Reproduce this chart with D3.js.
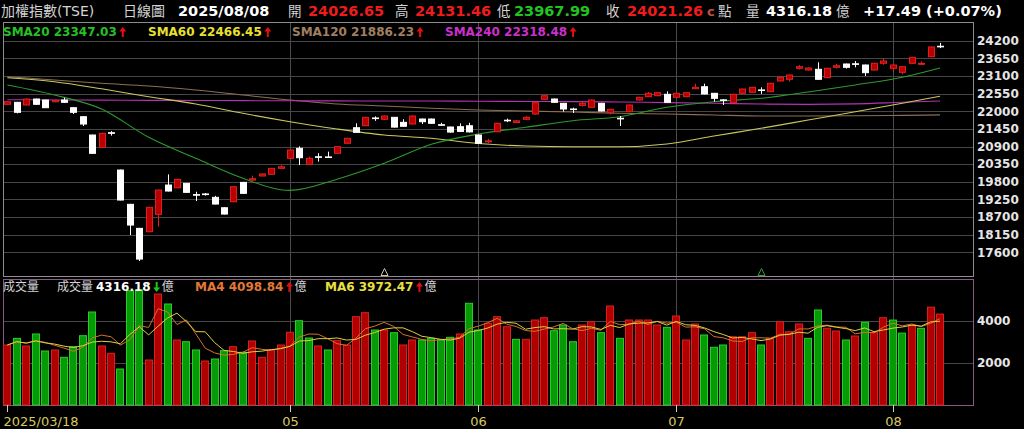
<!DOCTYPE html>
<html>
<head>
<meta charset="utf-8">
<script src="https://cdn.jsdelivr.net/npm/d3@7"></script>
<style>
body{margin:0;background:#000;}
svg{display:block;}
</style>
</head>
<body>
<svg id="chart" width="1024" height="429"></svg>
<script>
// TAIEX daily, 2025/03/18 - 2025/08/08
var dates = [
	"2025/03/18","2025/03/19","2025/03/20","2025/03/21","2025/03/24","2025/03/25","2025/03/26","2025/03/27","2025/03/28","2025/03/31",
	"2025/04/01","2025/04/02","2025/04/07","2025/04/08","2025/04/09","2025/04/10","2025/04/11","2025/04/14","2025/04/15","2025/04/16",
	"2025/04/17","2025/04/18","2025/04/21","2025/04/22","2025/04/23","2025/04/24","2025/04/25","2025/04/28","2025/04/29","2025/04/30",
	"2025/05/02","2025/05/05","2025/05/06","2025/05/07","2025/05/08","2025/05/09","2025/05/12","2025/05/13","2025/05/14","2025/05/15",
	"2025/05/16","2025/05/19","2025/05/20","2025/05/21","2025/05/22","2025/05/23","2025/05/26","2025/05/27","2025/05/28","2025/05/29",
	"2025/06/02","2025/06/03","2025/06/04","2025/06/05","2025/06/06","2025/06/09","2025/06/10","2025/06/11","2025/06/12","2025/06/13",
	"2025/06/16","2025/06/17","2025/06/18","2025/06/19","2025/06/20","2025/06/23","2025/06/24","2025/06/25","2025/06/26","2025/06/27",
	"2025/06/30","2025/07/01","2025/07/02","2025/07/03","2025/07/04","2025/07/07","2025/07/08","2025/07/09","2025/07/10","2025/07/11",
	"2025/07/14","2025/07/15","2025/07/16","2025/07/17","2025/07/18","2025/07/21","2025/07/22","2025/07/23","2025/07/24","2025/07/25",
	"2025/07/28","2025/07/29","2025/07/30","2025/07/31","2025/08/01","2025/08/04","2025/08/05","2025/08/06","2025/08/07","2025/08/08"
];
var opens = [
	22216,22278,22194,22381,22350,22297,22350,22110,21829,21258,
	20874,21330,20166,19096,18347,18241,18784,19698,19614,19751,
	19400,19420,19314,18990,19177,19782,19852,19980,20032,20219,
	20531,20843,20344,20580,20575,20687,21000,21486,21548,21790,
	21748,21810,21654,21601,21757,21757,21580,21508,21517,21548,
	21258,21045,21361,21720,21650,21748,21913,22372,22381,22247,
	22070,22184,22122,22247,21954,21780,21985,22350,22453,22484,
	22528,22434,22453,22703,22765,22559,22355,22266,22559,22590,
	22665,22609,22943,22996,23339,23286,23308,23046,23370,23473,
	23480,23442,23286,23495,23339,23214,23495,23464,23701,24026.65
];
var highs = [
	22310,22290,22400,22395,22360,22360,22422,22120,21840,21270,
	21330,21380,20180,19110,18360,19010,19550,20032,19890,19760,
	19489,19450,19360,19000,19655,19795,19990,20060,20230,20320,
	20800,20905,20581,20690,20740,20905,21170,21623,21825,21840,
	21870,21820,21750,21870,21770,21770,21640,21520,21620,21640,
	21270,21140,21640,21770,21720,21850,22280,22500,22395,22260,
	22110,22300,22365,22260,22075,21850,22210,22450,22600,22590,
	22620,22575,22590,22860,22860,22570,22380,22540,22705,22760,
	22746,22885,23070,23145,23440,23370,23526,23350,23480,23485,
	23565,23455,23510,23650,23455,23400,23695,23560,24020,24131.46
];
var lows = [
	22200,21935,22180,22200,22100,22280,22260,21913,21539,20670,
	20860,21240,19220,18138,17327,18230,18397,19500,19600,19460,
	19199,19370,19095,18780,19165,19420,19840,19970,20020,20210,
	20520,20322,20330,20430,20560,20675,20990,21330,21535,21700,
	21735,21495,21520,21590,21600,21610,21560,21330,21350,21340,
	20980,21000,21350,21660,21640,21720,21900,22360,22265,21985,
	21945,22150,22110,21995,21900,21540,21970,22340,22440,22470,
	22265,22420,22440,22690,22525,22297,22194,22255,22545,22580,
	22540,22595,22930,22920,23300,23270,22985,23035,23330,23330,
	23370,23099,23275,23450,23235,23150,23480,23440,23690,23967.99
];
var closes = [
	22297,21966,22381,22216,22110,22340,22278,21966,21601,20687,
	21311,21320,19230,18450,17389,19002,19542,19511,19876,19470,
	19380,19400,19105,18793,19645,19439,19893,20043,20219,20269,
	20790,20550,20531,20569,20560,20893,21155,21342,21810,21770,
	21851,21505,21530,21851,21673,21623,21570,21350,21370,21355,
	20999,21076,21623,21710,21700,21810,22266,22484,22278,22069,
	22060,22247,22350,22007,22060,21770,22194,22434,22559,22578,
	22278,22559,22578,22746,22537,22403,22350,22528,22693,22746,
	22655,22871,23058,23130,23389,23348,22996,23339,23420,23370,
	23470,23202,23495,23567,23442,23389,23682,23495,24003.77,24021.26
];
// 成交量 (億)
var volumes = [
	2843,3160,2795,3367,2557,2605,2257,2762,3286,4414,
	2795,2448,1700,5429,5460,2129,5271,4795,3081,3000,
	2605,2081,2176,2571,2762,2495,3033,2257,2605,2843,
	3448,4000,3176,2795,2605,3050,2843,4190,4381,3557,
	3557,3429,2843,3081,3081,3160,3081,3208,3367,4829,
	3557,3876,4190,3714,3113,3113,4033,4143,3524,3795,
	3000,3795,3952,3429,4700,3160,4033,4033,4033,3795,
	3684,4224,3081,3843,3319,2733,2843,3238,3238,3429,
	2843,3160,3952,3476,3843,3160,4510,3638,3510,3081,
	3271,3924,3429,4143,4030,3409.46,3795.18,3638,4646,4316.18
];
var maIdx = [0,5,10,15,20,25,30,35,40,45,50,55,60,65,70,75,80,85,90,95,99];
var sma20 = [22818,22506,22069,21186,20531,19907,19530,19880,20375,20968,21289,21498,21704,21829,22122,22297,22403,22599,22818,23058,23347.03];
var sma60 = [23046,22921,22700,22453,22225,21935,21673,21445,21258,21155,20993,20915,20893,20893,20977,21227,21467,21726,21985,22247,22466.45];
var sma120 = [23077,22974,22871,22787,22662,22506,22350,22225,22163,22091,22038,22007,21976,21935,21913,21882,21851,21851,21860,21872,21886.23];
var sma240 = [22360,22352,22345,22340,22335,22330,22325,22322,22320,22318,22310,22305,22300,22290,22270,22250,22225,22215,22230,22280,22318.48];
var priceTicks = d3.range(17600, 24201, 550);
var volTicks = [2000, 4000];
var markIdx = [40, 80];

var FONT = "'DejaVu Sans','Noto Sans CJK TC',sans-serif";
var n = dates.length;
var left = 3, right = 973,
	priceTop = 22, priceBottom = 276,
	volTop = 279, volBottom = 405;

var svg = d3.select("#chart");
svg.append("rect").attr("width", 1024).attr("height", 429).attr("fill", "#000");

var x = d3.scaleLinear().domain([0, n - 1]).range([7.4, 940]);
var y = d3.scaleLinear().domain([17600, 24200]).range([252.3, 40.7]);
var yv = d3.scaleLinear().domain([0, 4000]).range([404.7, 320.7]);
function cx(i){ return Math.round(x(i)); }

// month boundaries (the one right after the first label is skipped)
var tickIdx = [0];
for (var i = 1; i < n; i++) {
	if (dates[i].slice(5, 7) != dates[i - 1].slice(5, 7) && i > 15) tickIdx.push(i);
}

// grids
svg.append("g").selectAll("line").data(priceTicks).enter().append("line")
	.attr("x1", left).attr("x2", right)
	.attr("y1", function(d){ return Math.round(y(d)) + 0.5; })
	.attr("y2", function(d){ return Math.round(y(d)) + 0.5; })
	.attr("stroke", "#464646");
svg.append("g").selectAll("line").data(volTicks).enter().append("line")
	.attr("x1", left).attr("x2", right)
	.attr("y1", function(d){ return Math.round(yv(d)) + 0.5; })
	.attr("y2", function(d){ return Math.round(yv(d)) + 0.5; })
	.attr("stroke", "#464646");
svg.append("g").selectAll("line").data(tickIdx.slice(1)).enter().append("line")
	.attr("x1", function(i){ return cx(i) + 0.5; })
	.attr("x2", function(i){ return cx(i) + 0.5; })
	.attr("y1", priceTop).attr("y2", volBottom)
	.attr("stroke", "#4a4a4a");

// panel frames
svg.append("rect").attr("x", left + 0.5).attr("y", priceTop + 0.5)
	.attr("width", right - left).attr("height", priceBottom - priceTop)
	.attr("fill", "none").attr("stroke", "#8c8c8c");
svg.append("rect").attr("x", left + 0.5).attr("y", volTop + 0.5)
	.attr("width", right - left).attr("height", volBottom - volTop)
	.attr("fill", "none").attr("stroke", "#8a5a84");

// moving average lines
var maLine = d3.line()
	.x(function(d){ return x(d[0]); })
	.y(function(d){ return y(d[1]); })
	.curve(d3.curveMonotoneX);
function pairs(vals){ return maIdx.map(function(k, j){ return [k, vals[j]]; }); }
[[sma120, "#8c6e50"], [sma240, "#b432b4"], [sma60, "#c8c860"], [sma20, "#2e9a2e"]].forEach(function(m){
	svg.append("path").attr("d", maLine(pairs(m[0])))
		.attr("fill", "none").attr("stroke", m[1]).attr("stroke-width", 1.1);
});

// candles
var idx = d3.range(n);
function up(i){ return closes[i] >= opens[i]; }
var cg = svg.append("g");
cg.selectAll("line").data(idx).enter().append("line")
	.attr("x1", function(i){ return cx(i) + 0.5; })
	.attr("x2", function(i){ return cx(i) + 0.5; })
	.attr("y1", function(i){ return y(highs[i]); })
	.attr("y2", function(i){ return y(lows[i]); })
	.attr("stroke", function(i){ return up(i) ? "#e02020" : "#ffffff"; });
cg.selectAll("rect").data(idx).enter().append("rect")
	.attr("x", function(i){ return cx(i) - 2.5; })
	.attr("width", 6)
	.attr("y", function(i){ return y(Math.max(opens[i], closes[i])); })
	.attr("height", function(i){ return Math.max(0.6, Math.abs(y(opens[i]) - y(closes[i]))); })
	.attr("fill", function(i){ return up(i) ? "#b80000" : "#ffffff"; })
	.attr("stroke", function(i){ return up(i) ? "#e02020" : "#ffffff"; });

// event markers
svg.append("g").selectAll("path").data(markIdx).enter().append("path")
	.attr("d", function(i){ var c = cx(i) + 0.5; return "M" + (c - 3.5) + ",275.5L" + c + ",268.5L" + (c + 3.5) + ",275.5Z"; })
	.attr("fill", "none")
	.attr("stroke", function(i, j){ return j == 0 ? "#c8c8a8" : "#3a9a3a"; });

// volume bars
function volUp(i){ return i == 0 || closes[i] >= closes[i - 1]; }
svg.append("g").selectAll("rect").data(idx).enter().append("rect")
	.attr("x", function(i){ return cx(i) - 3.5; })
	.attr("width", 7)
	.attr("y", function(i){ return yv(volumes[i]); })
	.attr("height", function(i){ return volBottom - yv(volumes[i]); })
	.attr("fill", function(i){ return volUp(i) ? "#b00000" : "#069a06"; })
	.attr("stroke", function(i){ return volUp(i) ? "#d82020" : "#2ccc2c"; });

// volume moving averages
function movAvg(vals, p){
	return vals.map(function(v, i){
		var s = vals.slice(Math.max(0, i - p + 1), i + 1);
		return d3.mean(s);
	});
}
var ma4 = movAvg(volumes, 4), ma6 = movAvg(volumes, 6);
var vLine = d3.line()
	.x(function(d, i){ return x(i); })
	.y(function(d){ return yv(d); });
svg.append("path").attr("d", vLine(ma4)).attr("fill", "none").attr("stroke", "#d87030").attr("stroke-width", 1);
svg.append("path").attr("d", vLine(ma6)).attr("fill", "none").attr("stroke", "#e0d040").attr("stroke-width", 1);

// right axes
function styleAxis(g){
	g.select(".domain").remove();
	g.selectAll("text").attr("fill", "#e6e6e6")
		.style("font-family", FONT).style("font-size", "12px").style("font-weight", "bold");
}
svg.append("g").attr("transform", "translate(" + right + ",0)")
	.call(d3.axisRight(y).tickValues(priceTicks).tickSize(0).tickPadding(4).tickFormat(d3.format("d")))
	.call(styleAxis);
svg.append("g").attr("transform", "translate(" + right + ",0)")
	.call(d3.axisRight(yv).tickValues(volTicks).tickSize(0).tickPadding(4).tickFormat(d3.format("d")))
	.call(styleAxis);

// date axis
var gx = svg.append("g").attr("transform", "translate(0," + volBottom + ")")
	.call(d3.axisBottom(x).tickValues(tickIdx).tickSize(7).tickPadding(5)
		.tickFormat(function(i){ return i == 0 ? dates[0] : dates[i].slice(5, 7); }));
gx.select(".domain").remove();
gx.selectAll(".tick").attr("transform", function(i){ return "translate(" + (cx(i) + 0.5) + ",0)"; });
gx.selectAll("line").attr("stroke", "#d0d0c0");
gx.selectAll("text").attr("fill", "#d8c860")
	.style("font-family", FONT).style("font-size", "13px");
gx.selectAll("text").filter(function(i){ return i == 0; })
	.attr("text-anchor", "start").attr("x", left - cx(0));

// small arrow glyph
function arrow(xp, yTop, isUp, color){
	var h = 10, c = xp;
	var d = isUp
		? "M" + (c - 3.5) + "," + (yTop + 4.5) + "L" + c + "," + yTop + "L" + (c + 3.5) + "," + (yTop + 4.5) + "L" + (c + 1) + "," + (yTop + 4.5) + "L" + (c + 1) + "," + (yTop + h) + "L" + (c - 1) + "," + (yTop + h) + "L" + (c - 1) + "," + (yTop + 4.5) + "Z"
		: "M" + (c - 3.5) + "," + (yTop + h - 4.5) + "L" + c + "," + (yTop + h) + "L" + (c + 3.5) + "," + (yTop + h - 4.5) + "L" + (c + 1) + "," + (yTop + h - 4.5) + "L" + (c + 1) + "," + yTop + "L" + (c - 1) + "," + yTop + "L" + (c - 1) + "," + (yTop + h - 4.5) + "Z";
	svg.append("path").attr("d", d).attr("fill", color);
}
function label(xp, yp, str, color, size, bold){
	return svg.append("text").attr("x", xp).attr("y", yp).text(str)
		.attr("fill", color).style("font-family", FONT)
		.style("font-size", size + "px").style("font-weight", bold ? "bold" : "normal");
}

// header
var last = n - 1;
var chg = closes[last] - closes[last - 1];
var pct = chg / closes[last - 1] * 100;
var sign = chg >= 0 ? "+" : "";
var hy = 16, lab = "#d4d4d4";
label(1, hy, "加權指數(TSE)", lab, 14, false);
label(123, hy, "日線圖", lab, 14, false);
label(178, hy, dates[last], "#ffffff", 14.5, true);
label(288, hy, "開", lab, 13.5, false);
label(308, hy, opens[last].toFixed(2), "#f01c1c", 14.5, true);
label(395, hy, "高", lab, 13.5, false);
label(415, hy, highs[last].toFixed(2), "#f01c1c", 14.5, true);
label(497, hy, "低", lab, 13.5, false);
label(514, hy, lows[last].toFixed(2), "#22c422", 14.5, true);
label(606, hy, "收", lab, 13.5, false);
label(627, hy, closes[last].toFixed(2), "#f01c1c", 14.5, true);
label(707, hy, "c", "#c05040", 13, true);
label(718, hy, "點", lab, 13.5, false);
label(746, hy, "量", lab, 13.5, false);
label(766, hy, volumes[last].toFixed(2), "#ffffff", 14.5, true);
label(836, hy, "億", lab, 13.5, false);
label(863, hy, sign + chg.toFixed(2) + " (" + sign + pct.toFixed(2) + "%)", "#ffffff", 14.5, true);

// MA legend
var legend = [
	["SMA20", sma20, "#26c026", 3],
	["SMA60", sma60, "#e8e030", 148],
	["SMA120", sma120, "#a08060", 292],
	["SMA240", sma240, "#cc30cc", 445]
];
legend.forEach(function(l){
	var v = l[1], t = label(l[3], 36, l[0] + " " + v[v.length - 1].toFixed(2), l[2], 12, true);
	var w = t.node().getComputedTextLength();
	arrow(l[3] + w + 6, 27, v[v.length - 1] >= v[v.length - 2], "#e41010");
});

// volume legend
label(3, 291, "成交量", lab, 12, false);
label(57, 291, "成交量", lab, 12, false);
var vt = label(96, 291, volumes[last].toFixed(2), "#ffffff", 12, true);
var vx = 96 + vt.node().getComputedTextLength();
var vUp = volumes[last] >= volumes[last - 1];
arrow(vx + 6, 282, vUp, vUp ? "#e41010" : "#22c422");
label(vx + 11, 291, "億", lab, 12, false);
[["MA4", ma4, "#e07838", 195], ["MA6", ma6, "#e8e040", 325]].forEach(function(m){
	var v = m[1], t = label(m[3], 291, m[0] + " " + v[last].toFixed(2), m[2], 12, true);
	var w = t.node().getComputedTextLength();
	arrow(m[3] + w + 6, 282, v[last] >= v[last - 1], "#e41010");
	label(m[3] + w + 11, 291, "億", lab, 12, false);
});
</script>
</body>
</html>
